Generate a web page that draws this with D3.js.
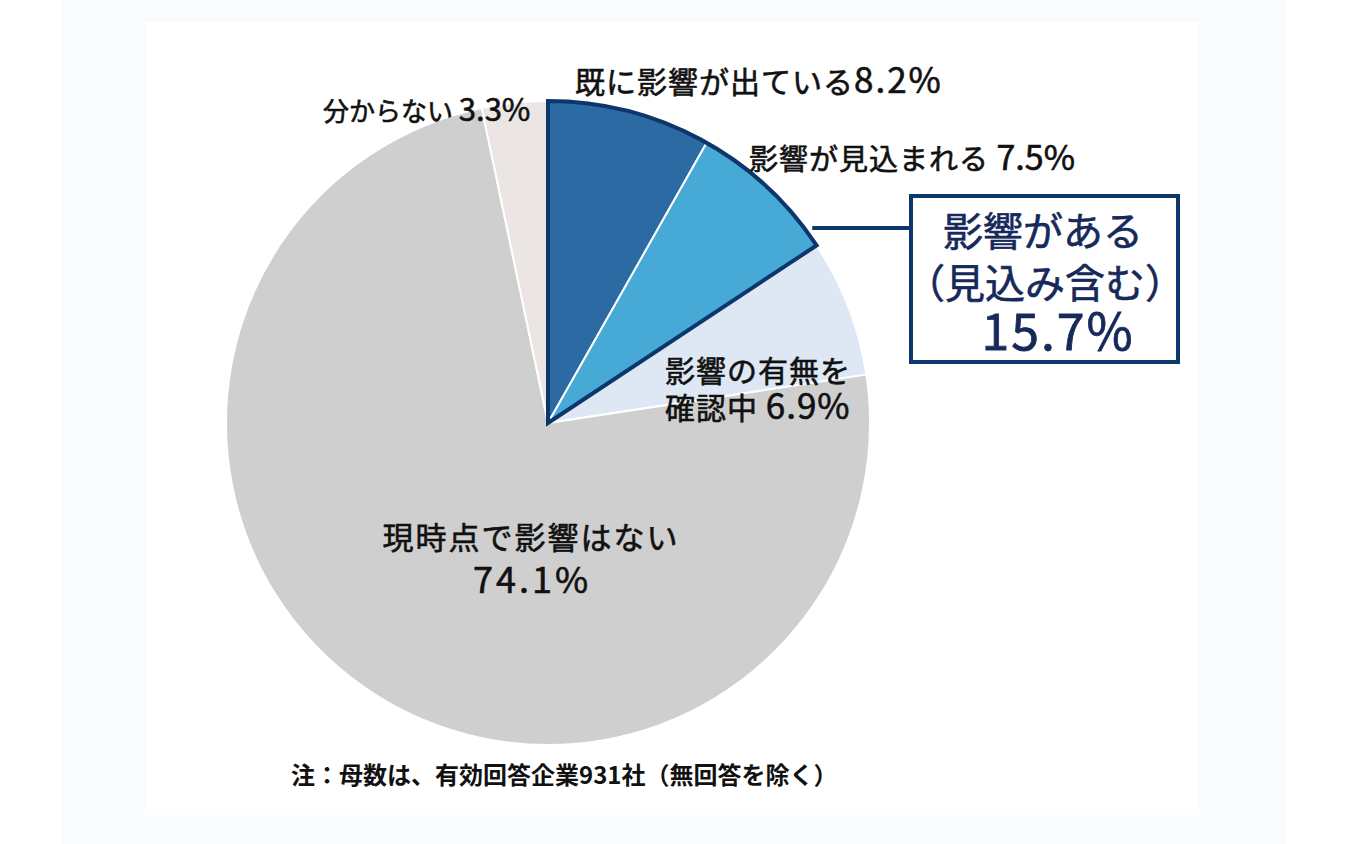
<!DOCTYPE html>
<html>
<head>
<meta charset="utf-8">
<script src="https://cdn.jsdelivr.net/npm/d3@7"></script>
<style>
  html, body { margin: 0; padding: 0; background: #ffffff; }
  svg { display: block; }
  text { font-family: "Noto Sans CJK JP", "Noto Sans", sans-serif; }
</style>
</head>
<body>
<div id="chart"></div>
<script>
// Data
const categories = ['既に影響が出ている', '影響が見込まれる', '影響の有無を確認中', '現時点で影響はない', '分からない'];
const values = [8.2, 7.5, 6.9, 74.1, 3.3];
const sliceColors = ['#2b6aa2', '#46a9d6', '#dde8f4', '#d0cfd0', '#ebe6e3'];
const groupLabel = ['影響がある', '（見込み含む）'];
const groupValue = 15.7;
const note = '注：母数は、有効回答企業931社（無回答を除く）';

const width = 1350;
const height = 844;
const cx = 548, cy = 423, radius = 322;
const navy = '#0c366c';
const textNavy = '#16295a';

const svg = d3.select('#chart')
    .append('svg')
    .attr('width', width)
    .attr('height', height);

// Background panels
svg.append('rect')
    .attr('x', 63).attr('y', 0)
    .attr('width', 1222).attr('height', height)
    .attr('fill', '#fafbfd');
svg.append('rect')
    .attr('x', 145).attr('y', 22)
    .attr('width', 1054).attr('height', 793)
    .attr('fill', '#ffffff');

// Pie
const pie = d3.pie().sort(null).value(d => d.value);
const arcs = pie(categories.map((c, i) => ({ name: c, value: values[i], color: sliceColors[i] })));
const arc = d3.arc().innerRadius(0).outerRadius(radius);

const g = svg.append('g').attr('transform', `translate(${cx},${cy})`);

g.selectAll('path.slice')
    .data(arcs)
    .enter()
    .append('path')
    .attr('class', 'slice')
    .attr('d', arc)
    .attr('fill', d => d.data.color)
    .attr('stroke', '#ffffff')
    .attr('stroke-width', 2);

// Outline round the two "影響がある" slices
const groupArc = { startAngle: arcs[0].startAngle, endAngle: arcs[1].endAngle };
g.append('path')
    .attr('d', arc(groupArc))
    .attr('fill', 'none')
    .attr('stroke', navy)
    .attr('stroke-width', 4)
    .attr('stroke-linejoin', 'miter');

// Leader line to the callout box
const box = { x: 911, y: 196, w: 267, h: 166 };
const leaderY = 228;
const dy = cy - leaderY;
const leaderX = cx + Math.sqrt(radius * radius - dy * dy);
svg.append('line')
    .attr('x1', leaderX + 8).attr('y1', leaderY)
    .attr('x2', box.x).attr('y2', leaderY)
    .attr('stroke', navy)
    .attr('stroke-width', 4);

svg.append('rect')
    .attr('x', box.x).attr('y', box.y)
    .attr('width', box.w).attr('height', box.h)
    .attr('fill', '#ffffff')
    .attr('stroke', navy)
    .attr('stroke-width', 4);

// Slightly heavier strokes to mimic the medium weight of the original font
function heavy(sel, color, w) {
    return sel.style('fill', color)
        .style('stroke', color)
        .style('stroke-width', w + 'px')
        .style('paint-order', 'stroke');
}

heavy(svg.append('text')
    .attr('x', 1043).attr('y', 246)
    .attr('text-anchor', 'middle')
    .style('font-size', '40px')
    .text(groupLabel[0]), textNavy, 0.6);
heavy(svg.append('text')
    .attr('x', 1045).attr('y', 298)
    .attr('text-anchor', 'middle')
    .style('font-size', '40px')
    .text(groupLabel[1]), textNavy, 0.6);
heavy(svg.append('text')
    .attr('x', 1058).attr('y', 350)
    .attr('text-anchor', 'middle')
    .style('font-size', '50px')
    .style('letter-spacing', '2px')
    .text(groupValue.toFixed(1) + '%'), textNavy, 0.8);

// Slice labels
const pct = i => values[i].toFixed(1) + '%';
function label(x, y, anchor, parts) {
    const t = svg.append('text')
        .attr('x', x).attr('y', y)
        .attr('text-anchor', anchor);
    heavy(t, '#111111', 0.6);
    parts.forEach(p => {
        t.append('tspan')
            .style('font-size', p.size + 'px')
            .style('letter-spacing', p.ls + 'px')
            .text(p.text);
    });
    return t;
}

label(575, 93, 'start', [
    { text: categories[0], size: 30, ls: 1 },
    { text: pct(0), size: 35, ls: 2 }
]);
label(749, 170, 'start', [
    { text: categories[1] + ' ', size: 29, ls: 1 },
    { text: pct(1), size: 34, ls: 0 }
]);
label(665, 382, 'start', [
    { text: '影響の有無を', size: 30, ls: 1 }
]);
label(665, 419, 'start', [
    { text: '確認中 ', size: 30, ls: 1 },
    { text: pct(2), size: 35, ls: 1 }
]);
label(531, 549, 'middle', [
    { text: categories[3], size: 31, ls: 2 }
]);
label(532, 593, 'middle', [
    { text: pct(3), size: 36, ls: 3 }
]);
label(323, 121, 'start', [
    { text: categories[4] + ' ', size: 26, ls: 0 },
    { text: pct(4), size: 31, ls: 0 }
]);

// Footnote
svg.append('text')
    .attr('x', 291).attr('y', 784)
    .style('font-size', '24px')
    .style('font-weight', 'bold')
    .style('fill', '#111111')
    .text(note);
</script>
</body>
</html>
